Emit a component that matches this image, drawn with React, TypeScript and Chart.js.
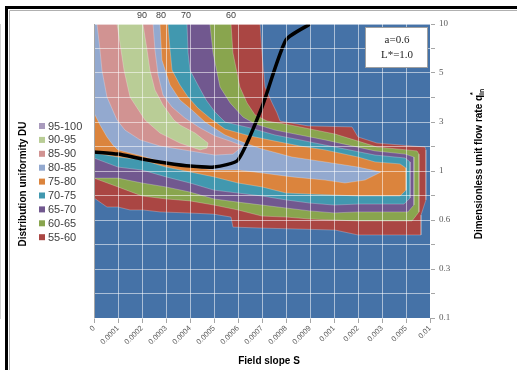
import React, { useEffect, useRef } from 'react';
import { Chart, registerables } from 'chart.js';

Chart.register(...registerables);

// ---- axis categories ----
const xLabels = ['0', '0.0001', '0.0002', '0.0003', '0.0004', '0.0005', '0.0006', '0.0007', '0.0008', '0.0009', '0.001', '0.002', '0.003', '0.005', '0.01'];
const yLabels = ['0.1', '', '0.3', '', '0.6', '', '1', '', '3', '', '5', '', '10'];

// ---- legend / band classes ----
const legendNames = ['95-100', '90-95', '85-90', '80-85', '75-80', '70-75', '65-70', '60-65', '55-60'];
const legendColors = ['#A99BBD', '#B9CD96', '#D19392', '#93A9CF', '#DB843D', '#4198AF', '#71588F', '#89A54E', '#AA4643'];
const belowColor = '#4572A7';

// contour level labels along the top edge (x position in slope-category units)
const topLevelLabels = ['90', '80', '70', '60'];
const topLevelX = [2.0, 2.79, 3.83, 5.71];

// ---- contour regions (x = slope category position, y = flow-rate category position) ----
const regionAll: number[][] = [[0, 0], [14, 0], [14, 12], [0, 12]];
const regionDU55: number[][] = [[0, 12], [6.92, 12], [7.0, 10.82], [7.125, 9.43], [7.42, 8.78], [7.625, 8.37], [7.75, 8.04], [8.92, 7.84], [10.75, 7.8], [11.0, 7.39], [11.79, 7.14], [13.79, 6.98], [13.83, 6.86], [13.83, 4.82], [13.625, 4.2], [13.625, 3.39], [11.0, 3.39], [10.04, 3.59], [7.0, 3.67], [5.79, 3.71], [5.71, 4.12], [4.96, 4.24], [3.875, 4.29], [2.75, 4.33], [2.04, 4.41], [1.5, 4.41], [1.0, 4.53], [0.54, 4.53], [0, 4.9]];
const regionDU60: number[][] = [[0, 12], [5.71, 12], [5.79, 10.82], [6.08, 9.43], [6.375, 8.78], [6.71, 8.29], [7.21, 8.04], [8.17, 7.88], [10.04, 7.51], [11.0, 7.22], [11.79, 6.98], [13.46, 6.82], [13.54, 6.69], [13.54, 4.33], [13.25, 3.96], [11.0, 3.96], [10.0, 4.0], [9.0, 4.04], [8.0, 4.12], [7.0, 4.16], [6.0, 4.41], [5.0, 4.61], [4.0, 4.78], [3.0, 4.86], [2.0, 4.98], [1.0, 5.35], [0, 5.71]];
const regionDU65: number[][] = [[0, 12], [4.83, 12], [4.96, 10.82], [5.25, 9.43], [5.67, 8.78], [6.21, 8.2], [6.71, 7.92], [7.54, 7.67], [9.625, 7.27], [11.71, 6.82], [12.96, 6.69], [13.33, 6.57], [13.33, 4.61], [13.08, 4.33], [11.0, 4.33], [10.0, 4.29], [9.0, 4.37], [8.0, 4.49], [7.0, 4.61], [6.0, 4.73], [5.0, 4.86], [4.0, 5.14], [3.0, 5.35], [2.0, 5.51], [1.0, 5.71], [0, 5.71]];
const regionDU70: number[][] = [[0, 12], [3.875, 12], [3.92, 10.82], [4.0, 10.12], [4.33, 9.51], [4.67, 8.9], [5.04, 8.41], [5.46, 8.0], [6.5, 7.76], [7.54, 7.47], [8.58, 7.27], [9.625, 7.06], [11.71, 6.65], [12.96, 6.53], [13.17, 6.37], [13.17, 4.9], [12.92, 4.65], [11.0, 4.65], [10.0, 4.61], [9.0, 4.69], [8.0, 4.82], [7.0, 4.98], [6.0, 5.1], [5.0, 5.22], [4.0, 5.51], [3.0, 5.76], [2.0, 6.04], [1.0, 6.16], [0, 6.53]];
const regionDU75: number[][] = [[0, 12], [3.08, 12], [3.17, 10.94], [3.25, 10.12], [3.58, 9.51], [3.92, 9.02], [4.33, 8.57], [4.83, 8.16], [5.46, 7.71], [6.5, 7.43], [7.54, 7.22], [8.58, 7.02], [9.625, 6.86], [11.0, 6.57], [11.71, 6.37], [12.75, 6.29], [13.0, 6.12], [13.0, 5.22], [12.75, 4.98], [11.0, 4.98], [10.0, 5.02], [9.0, 5.06], [8.0, 5.1], [7.0, 5.35], [6.0, 5.51], [5.0, 5.76], [4.0, 5.96], [3.0, 6.16], [2.0, 6.45], [1.0, 6.57], [0, 6.73]];
const regionDU80: number[][] = [[0, 12], [2.75, 12], [2.83, 10.53], [3.17, 9.51], [3.58, 8.9], [4.08, 8.49], [4.625, 8.0], [5.46, 7.47], [6.29, 7.14], [7.0, 6.9], [8.25, 6.57], [9.625, 6.37], [11.0, 6.16], [11.96, 5.96], [11.29, 5.63], [10.46, 5.51], [9.625, 5.63], [8.25, 5.76], [7.0, 5.92], [6.0, 6.04], [5.0, 6.04], [4.0, 6.16], [3.0, 6.33], [2.0, 6.61], [1.0, 6.86], [0.79, 7.06], [0.54, 7.39], [0.25, 7.88], [0, 8.37]];
const regionDU85: number[][] = [[0.125, 12], [2.46, 12], [2.54, 10.94], [2.67, 9.92], [2.875, 9.1], [3.25, 8.61], [3.79, 8.16], [4.42, 7.76], [5.04, 7.43], [5.67, 7.22], [6.21, 7.02], [5.79, 6.69], [5.04, 6.65], [4.0, 6.82], [2.75, 7.02], [1.92, 7.27], [1.29, 7.67], [0.96, 8.08], [0.54, 9.02], [0.33, 10.12], [0.25, 10.94]];
const regionDU90: number[][] = [[0.96, 12], [2.04, 12], [2.21, 10.94], [2.33, 10.12], [2.54, 9.31], [2.875, 8.69], [3.33, 8.08], [3.58, 7.88], [4.21, 7.55], [4.75, 7.14], [4.71, 6.94], [4.42, 6.86], [3.58, 7.14], [2.75, 7.55], [2.125, 8.08], [1.5, 9.02], [1.25, 10.12], [1.125, 10.94]];

// optimum (black) curve
const optimumX = [0, 1, 2, 3, 4, 5, 6, 7, 8, 9];
const optimumY = [6.78, 6.69, 6.49, 6.33, 6.2, 6.16, 6.45, 8.61, 11.35, 12];

const annotationLines = ['a=0.6', 'L*=1.0'];

const toPts = (arr: number[][]) => {
  const pts = arr.map(([x, y]) => ({ x, y }));
  pts.push({ x: arr[0][0], y: arr[0][1] });
  return pts;
};

const regionDataset = (label: string, arr: number[][], color: string, order: number) => ({
  type: 'line' as const,
  label,
  data: toPts(arr),
  backgroundColor: color,
  borderColor: 'rgba(255,255,255,0.35)',
  borderWidth: 0.7,
  pointRadius: 0,
  fill: 'shape',
  tension: 0,
  order,
});

const decorPlugin = {
  id: 'decor',
  beforeDraw(chart: any) {
    const ctx = chart.ctx;
    ctx.save();
    ctx.fillStyle = '#ffffff';
    ctx.fillRect(0, 0, chart.width, chart.height);
    ctx.restore();
  },
  afterDraw(chart: any) {
    const { ctx, chartArea: a } = chart;
    const xs = chart.scales.x;
    ctx.save();
    // left plot edge
    ctx.strokeStyle = '#a6a6a6';
    ctx.lineWidth = 1;
    ctx.beginPath();
    ctx.moveTo(a.left + 0.5, a.top);
    ctx.lineTo(a.left + 0.5, a.bottom);
    ctx.stroke();

    // outer frame
    ctx.strokeStyle = '#000';
    ctx.lineWidth = 3;
    ctx.beginPath();
    ctx.moveTo(chart.width + 2, 7.5);
    ctx.lineTo(6.5, 7.5);
    ctx.lineTo(6.5, chart.height + 2);
    ctx.stroke();
    ctx.strokeStyle = '#b0b0b0';
    ctx.lineWidth = 1;
    ctx.beginPath();
    ctx.moveTo(chart.width + 2, 10.5);
    ctx.lineTo(9.5, 10.5);
    ctx.lineTo(9.5, chart.height + 2);
    ctx.stroke();

    // top contour labels
    ctx.fillStyle = '#404040';
    ctx.font = '9px "Liberation Sans", Arial, sans-serif';
    ctx.textAlign = 'center';
    ctx.textBaseline = 'middle';
    topLevelLabels.forEach((t, i) => {
      ctx.fillText(t, xs.getPixelForValue(topLevelX[i]), 16);
    });

    // annotation box
    ctx.fillStyle = '#ffffff';
    ctx.fillRect(365, 27, 63, 41);
    ctx.strokeStyle = '#a0a0a0';
    ctx.lineWidth = 1;
    ctx.strokeRect(365.5, 27.5, 62, 40);
    ctx.fillStyle = '#262626';
    ctx.font = '11px "Liberation Serif", "Times New Roman", serif';
    ctx.textAlign = 'center';
    ctx.fillText(annotationLines[0], 397, 40);
    ctx.fillText(annotationLines[1], 397, 55);

    // legend
    ctx.font = '11px "Liberation Sans", Arial, sans-serif';
    ctx.textAlign = 'left';
    legendNames.forEach((n, i) => {
      const y = 126 + i * 13.9;
      ctx.fillStyle = legendColors[i];
      ctx.fillRect(39, y - 3, 6, 6);
      ctx.fillStyle = '#404040';
      ctx.fillText(n, 48, y + 0.5);
    });

    // left title
    ctx.save();
    ctx.translate(23, 184);
    ctx.rotate(-Math.PI / 2);
    ctx.fillStyle = '#000';
    ctx.font = 'bold 10px "Liberation Sans", Arial, sans-serif';
    ctx.textAlign = 'center';
    ctx.fillText('Distribution uniformity DU', 0, 0);
    ctx.restore();

    // bottom title
    ctx.fillStyle = '#000';
    ctx.font = 'bold 10px "Liberation Sans", Arial, sans-serif';
    ctx.textAlign = 'center';
    ctx.fillText('Field slope S', 269, 361);

    // right title with subscript / superscript
    ctx.save();
    ctx.translate(479, 164);
    ctx.rotate(-Math.PI / 2);
    const main = 'Dimensionless unit flow rate q';
    const fMain = 'bold 10px "Liberation Sans", Arial, sans-serif';
    const fSmall = 'bold 7px "Liberation Sans", Arial, sans-serif';
    ctx.font = fMain;
    const wMain = ctx.measureText(main).width;
    ctx.font = fSmall;
    const wSub = ctx.measureText('in').width;
    const total = wMain + wSub;
    const x0 = -total / 2;
    ctx.textAlign = 'left';
    ctx.fillStyle = '#000';
    ctx.font = fMain;
    ctx.fillText(main, x0, 0);
    ctx.font = fSmall;
    ctx.fillText('in', x0 + wMain, 3);
    ctx.fillText('*', x0 + wMain, -6);
    ctx.restore();

    ctx.restore();
  },
};

export default function App() {
  const ref = useRef<HTMLCanvasElement | null>(null);
  useEffect(() => {
    if (!ref.current) return;
    const datasets: any[] = [
      {
        type: 'line',
        label: 'optimum',
        data: optimumX.map((x, i) => ({ x, y: optimumY[i] })),
        borderColor: '#000000',
        borderWidth: 3.5,
        pointRadius: 0,
        fill: false,
        tension: 0.2,
        order: 0,
      },
      regionDataset('90-95', regionDU90, legendColors[1], 1),
      regionDataset('85-90', regionDU85, legendColors[2], 2),
      regionDataset('80-85', regionDU80, legendColors[3], 3),
      regionDataset('75-80', regionDU75, legendColors[4], 4),
      regionDataset('70-75', regionDU70, legendColors[5], 5),
      regionDataset('65-70', regionDU65, legendColors[6], 6),
      regionDataset('60-65', regionDU60, legendColors[7], 7),
      regionDataset('55-60', regionDU55, legendColors[8], 8),
      { ...regionDataset('<55', regionAll, belowColor, 9), borderWidth: 0 },
    ];
    const chart = new Chart(ref.current, {
      type: 'line',
      data: { datasets },
      plugins: [decorPlugin],
      options: {
        responsive: false,
        animation: false,
        events: [],
        layout: { padding: { left: 94, top: 24, right: 0, bottom: 0 } },
        plugins: { legend: { display: false }, tooltip: { enabled: false } },
        scales: {
          x: {
            type: 'linear',
            min: 0,
            max: 14,
            afterFit: (s: any) => { s.height = 52; },
            afterBuildTicks: (s: any) => { s.ticks = xLabels.map((_, i) => ({ value: i })); },
            ticks: {
              autoSkip: false,
              minRotation: 45,
              maxRotation: 45,
              padding: 1,
              color: '#595959',
              font: { family: '"Liberation Sans", Arial, sans-serif', size: 7.5 },
              callback: (v: any) => xLabels[Math.round(Number(v))] ?? '',
            },
            grid: { color: 'rgba(255,255,255,0.55)', lineWidth: 1, z: 1, tickLength: 5, tickColor: '#a6a6a6' },
            border: { display: false },
          },
          y: {
            type: 'linear',
            position: 'right',
            min: 0,
            max: 12,
            afterFit: (s: any) => { s.width = 87; },
            afterBuildTicks: (s: any) => { s.ticks = yLabels.map((_, i) => ({ value: i })); },
            ticks: {
              autoSkip: false,
              padding: 4,
              color: '#595959',
              font: { family: '"Liberation Serif", "Times New Roman", serif', size: 9 },
              callback: (v: any) => yLabels[Math.round(Number(v))] ?? '',
            },
            grid: { color: 'rgba(255,255,255,0.55)', lineWidth: 1, z: 1, tickLength: 5, tickColor: '#a6a6a6' },
            border: { display: true, color: '#a6a6a6' },
          },
        },
      } as any,
    });
    return () => chart.destroy();
  }, []);
  return (
    <div style={{ position: 'absolute', left: 0, top: 0, width: 517, height: 370 }}>
      <canvas ref={ref} width={517} height={370} style={{ display: 'block' }} />
    </div>
  );
}
